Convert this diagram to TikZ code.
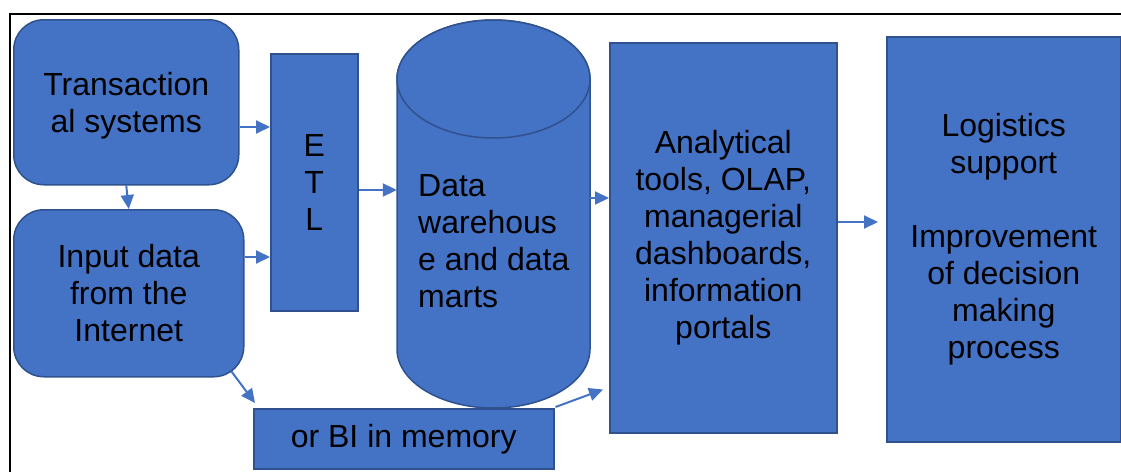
\documentclass[tikz,border=0pt]{standalone}
\usepackage{fontspec}
\setmainfont{Liberation Sans}
\usetikzlibrary{arrows.meta,calc}
\definecolor{fillblue}{HTML}{4472C4}
\definecolor{edgeblue}{HTML}{2F528F}
\begin{document}
\begin{tikzpicture}[x=1pt,y=-1pt,
  blk/.style={draw=edgeblue, fill=fillblue, line width=1.5pt, inner sep=0pt, align=center,
    anchor=north west, font=\fontsize{32}{37}\selectfont, text=black},
  rblk/.style={blk, rounded corners=30pt},
  arr/.style={-{Triangle[length=14pt,width=13pt]}, draw=fillblue, line width=2pt},
  frame/.style={draw=black, line width=1.3pt}
]
\useasboundingbox (0,0) rectangle (1121,471);
\clip (0,0) rectangle (1121,471);
\draw[frame] (10,480) |- (1130,14);

\node[rblk, minimum width=225pt, minimum height=165pt] (trans) at (13,19) {\\[-6pt]Transaction\\al systems};
\node[rblk, minimum width=230pt, minimum height=167pt] (input) at (13,209) {Input data\\from the\\Internet};
\node[blk, minimum width=87pt, minimum height=257pt] (etl) at (270,53) {E\\T\\L};

% cylinder
\draw[draw=edgeblue, fill=fillblue, line width=1.5pt]
  (397,79) -- (397,349) arc[start angle=180, end angle=0, x radius=96.5, y radius=59]
  -- (590,79) arc[start angle=0, end angle=-180, x radius=96.5, y radius=59] -- cycle;
\draw[draw=edgeblue, fill=fillblue, line width=1.5pt] (493.5,79) ellipse[x radius=96.5, y radius=59];
\node[minimum width=193pt, minimum height=388pt, inner sep=0pt] (dw) at (493.5,214) {};
\node[anchor=west, align=left, inner sep=0pt, font=\fontsize{32}{37}\selectfont] (dwtext) at (418,241) {Data\\warehous\\e and data\\marts};

\node[blk, minimum width=227pt, minimum height=390pt] (anal) at (609,42) {Analytical\\tools, OLAP,\\managerial\\dashboards,\\information\\portals};
\node[blk, minimum width=234pt, minimum height=405pt] (logi) at (886,36) {Logistics\\support\\[37pt]Improvement\\of decision\\making\\process};
\node[blk, minimum width=300pt, minimum height=60pt] (bi) at (253,408) {or BI in memory};

\draw[arr] (trans.east |- 0,127) -- (etl.west |- 0,127);
\draw[arr] (trans.south) -- (input.north);
\draw[arr] (input.east |- 0,257) -- (etl.west |- 0,257);
\draw[arr] (etl.east |- 0,190) -- (dw.west |- 0,190);
\draw[arr] (dw.east |- 0,198) -- (anal.west |- 0,198);
\draw[arr, shorten >=8pt] (anal.east |- 0,222) -- (logi.west |- 0,222);
\draw[arr] ([xshift=-13pt,yshift=6pt]input.south east) -- ([xshift=2pt,yshift=5pt]bi.north west);
\draw[arr] ([xshift=1pt,yshift=1pt]bi.north east) -- ($(anal.south west)+(-6,-44)$);
\end{tikzpicture}
\end{document}
